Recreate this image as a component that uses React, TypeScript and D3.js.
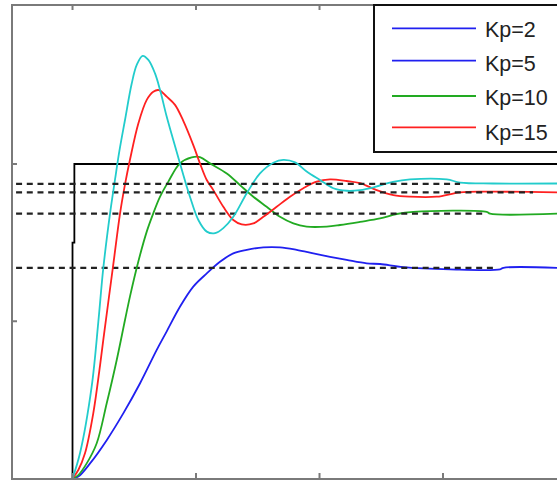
import { useEffect, useRef } from "react";
import * as d3 from "d3";

// time (s) and response values
const kp2T = [0, 0.047, 0.142, 0.277, 0.411, 0.547, 0.682, 0.763, 0.87, 0.978, 1.087, 1.194, 1.302, 1.411, 1.545, 1.68, 1.815, 1.95, 2.085, 2.22, 2.382, 2.49, 2.679, 3.057, 3.462, 3.489, 3.923];
const kp2Y = [0, 0.006, 0.048, 0.122, 0.207, 0.303, 0.409, 0.468, 0.546, 0.61, 0.652, 0.689, 0.716, 0.727, 0.735, 0.735, 0.727, 0.716, 0.705, 0.695, 0.684, 0.682, 0.672, 0.665, 0.665, 0.67, 0.67];

const kp5T = [0, 0.047, 0.115, 0.196, 0.277, 0.358, 0.425, 0.466, 0.533, 0.601, 0.654, 0.709, 0.776, 0.87, 0.965, 1.032, 1.113, 1.249, 1.356, 1.464, 1.572, 1.68, 1.788, 1.896, 2.058, 2.166, 2.328, 2.49, 2.625, 2.76, 3.354, 3.381, 3.923];
const kp5Y = [0, 0.011, 0.048, 0.112, 0.239, 0.377, 0.504, 0.58, 0.69, 0.785, 0.843, 0.896, 0.944, 1.002, 1.021, 1.022, 1.002, 0.97, 0.933, 0.896, 0.864, 0.832, 0.811, 0.801, 0.801, 0.806, 0.816, 0.827, 0.841, 0.848, 0.848, 0.842, 0.842];

const kp10T = [0, 0.047, 0.101, 0.168, 0.223, 0.249, 0.33, 0.385, 0.425, 0.466, 0.533, 0.601, 0.654, 0.7, 0.763, 0.83, 0.897, 0.978, 1.032, 1.087, 1.14, 1.221, 1.302, 1.37, 1.464, 1.545, 1.653, 1.761, 1.869, 1.977, 2.085, 2.22, 2.328, 2.463, 2.598, 2.733, 2.949, 3.138, 3.381, 3.923];
const kp10Y = [0, 0.027, 0.08, 0.207, 0.36, 0.44, 0.68, 0.843, 0.935, 1.015, 1.129, 1.204, 1.23, 1.235, 1.214, 1.188, 1.137, 1.06, 1.002, 0.949, 0.917, 0.864, 0.822, 0.808, 0.811, 0.832, 0.864, 0.896, 0.923, 0.944, 0.951, 0.946, 0.939, 0.917, 0.901, 0.896, 0.896, 0.91, 0.912, 0.91];

const kp15T = [0, 0.061, 0.155, 0.209, 0.249, 0.304, 0.344, 0.379, 0.425, 0.479, 0.52, 0.568, 0.614, 0.668, 0.709, 0.763, 0.816, 0.87, 0.925, 0.951, 1.019, 1.087, 1.154, 1.221, 1.302, 1.411, 1.518, 1.626, 1.707, 1.802, 1.896, 2.004, 2.112, 2.22, 2.328, 2.449, 2.595, 2.733, 3.03, 3.138, 3.405, 3.923];
const kp15Y = [0, 0.081, 0.292, 0.498, 0.668, 0.843, 0.95, 1.04, 1.14, 1.255, 1.315, 1.344, 1.331, 1.288, 1.235, 1.15, 1.076, 1.002, 0.928, 0.896, 0.822, 0.785, 0.78, 0.796, 0.832, 0.907, 0.97, 1.004, 1.013, 1.005, 0.976, 0.949, 0.923, 0.915, 0.917, 0.927, 0.943, 0.951, 0.951, 0.941, 0.938, 0.938];

// steady-state reference levels and where their dashes stop
const ssLevels = [0.67, 0.842, 0.91, 0.937];
const ssEnds = [3.405, 3.324, 3.729, 3.138];

// unit step input
const stepT = [0, 0, 0.015, 0.015, 4.1];
const stepY = [0, 0.75, 0.75, 1, 1];

const curveColors = ["#2020f0", "#22aa22", "#ff2020", "#22cccc"];
const legendLabels = ["Kp=2", "Kp=5", "Kp=10", "Kp=15"];
const legendColors = ["#2020f0", "#2020f0", "#22aa22", "#ff2020"];

const xTicks = [0, 1, 2, 3];
const yTicks = [0.5, 1];

export default function App() {
  const ref = useRef<SVGSVGElement>(null);

  useEffect(() => {
    const width = 557;
    const height = 481;
    const left = 12, top = 5, bottom = 479;

    const svg = d3.select(ref.current);
    svg.selectAll("*").remove();

    const x = d3.scaleLinear().domain([-0.49, 3.923]).range([left, width]);
    const y = d3.scaleLinear().domain([0, 1.5]).range([478.5, 6.75]);

    svg.append("rect").attr("width", width).attr("height", height).attr("fill", "#fff");

    const line = d3.line<[number, number]>()
      .x(d => x(d[0]))
      .y(d => y(d[1]))
      .curve(d3.curveCatmullRom.alpha(0.5));

    // step input
    svg.append("path")
      .datum(stepT.map((t, i) => [t, stepY[i]] as [number, number]))
      .attr("fill", "none")
      .attr("stroke", "#000")
      .attr("stroke-width", 1.8)
      .attr("d", d3.line<[number, number]>().x(d => x(d[0])).y(d => y(d[1])));

    const series = [
      [kp2T, kp2Y],
      [kp5T, kp5Y],
      [kp10T, kp10Y],
      [kp15T, kp15Y],
    ];

    // each response followed by its dashed steady-state level
    series.forEach(([ts, ys], i) => {
      svg.append("path")
        .datum(ts.map((t, j) => [t, ys[j]] as [number, number]))
        .attr("fill", "none")
        .attr("stroke", curveColors[i])
        .attr("stroke-width", 1.8)
        .attr("d", line);

      svg.append("line")
        .attr("x1", x(-0.457))
        .attr("x2", x(ssEnds[i]))
        .attr("y1", y(ssLevels[i]))
        .attr("y2", y(ssLevels[i]))
        .attr("stroke", "#222")
        .attr("stroke-width", 2.2)
        .attr("stroke-dasharray", "6,4.7");
    });

    // axes frame
    const axisColor = "#7a7a7a";
    const frame = svg.append("g").attr("stroke", axisColor).attr("stroke-width", 2).attr("fill", "none");
    frame.append("path").attr("d", `M${width + 10},${top}H${left}V${bottom}H${width + 10}`);

    xTicks.forEach(t => {
      frame.append("line").attr("x1", x(t)).attr("x2", x(t)).attr("y1", bottom).attr("y2", bottom - 6);
      frame.append("line").attr("x1", x(t)).attr("x2", x(t)).attr("y1", top).attr("y2", top + 5);
    });
    yTicks.forEach(v => {
      frame.append("line").attr("x1", left).attr("x2", left + 5).attr("y1", y(v)).attr("y2", y(v));
    });

    /* ---------- LEGEND ---------- */
    const lineRows = [28.3, 60.7, 96, 127.3];
    const textRows = [36.8, 70.7, 105, 140];
    const legend = svg.append("g");
    legend.append("rect")
      .attr("x", 374).attr("y", 5)
      .attr("width", 200).attr("height", 147)
      .attr("fill", "#fff")
      .attr("stroke", "#111")
      .attr("stroke-width", 2);

    legendLabels.forEach((label, i) => {
      legend.append("line")
        .attr("x1", 392).attr("x2", 476)
        .attr("y1", lineRows[i]).attr("y2", lineRows[i])
        .attr("stroke", legendColors[i])
        .attr("stroke-width", 1.8);
      legend.append("text")
        .attr("x", 485).attr("y", textRows[i])
        .attr("font-family", "Liberation Sans, Arial, sans-serif")
        .attr("font-size", 21.5)
        .attr("fill", "#222")
        .text(label);
    });
  }, []);

  return (
    <svg ref={ref} width={557} height={481} style={{ position: "absolute", left: 0, top: 0 }} />
  );
}
